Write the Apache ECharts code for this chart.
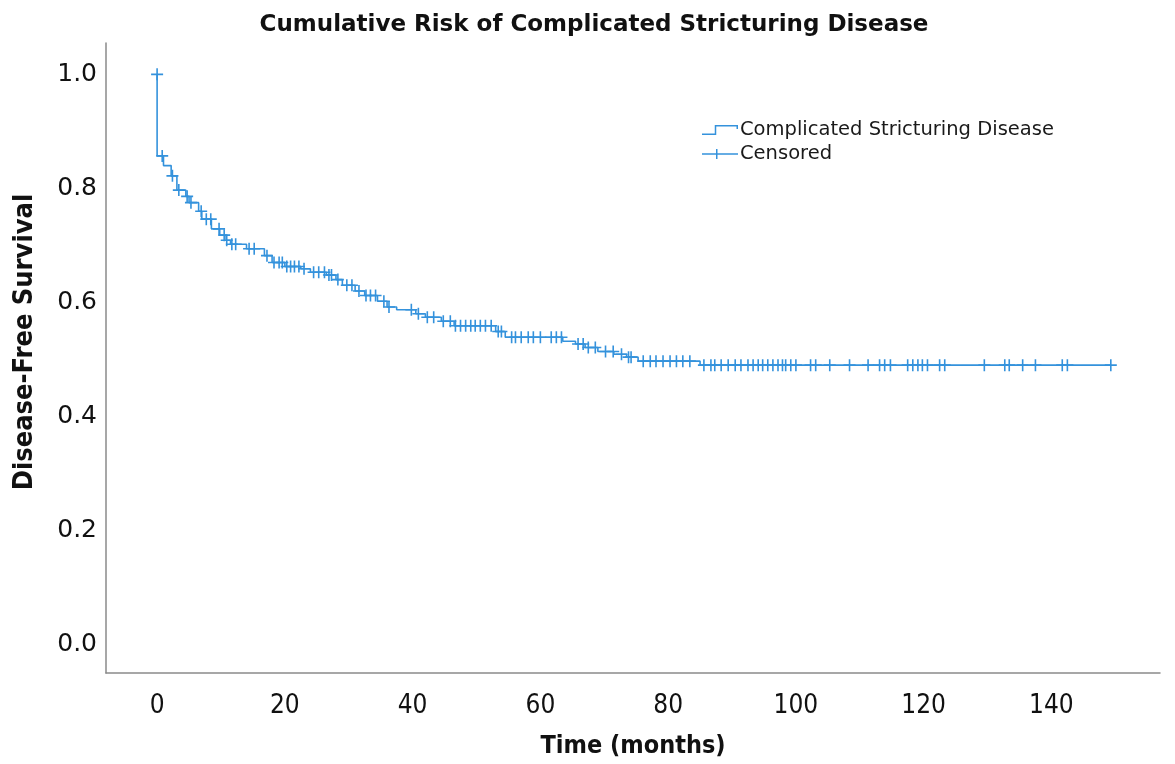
<!DOCTYPE html>
<html>
<head>
<meta charset="utf-8">
<script src="https://cdn.jsdelivr.net/npm/echarts@6/dist/echarts.min.js"></script>
<style>
html,body{margin:0;padding:0;background:#fff;}
#chart{width:1175px;height:764px;}
</style>
</head>
<body>
<div id="chart"></div>
<script>
// Kaplan-Meier event steps: time (months) and survival after the drop
var eventTimes = [0, 1.0, 2.2, 3.1, 4.5, 5.0, 6.5, 7.0, 8.5, 9.8, 10.8, 11.5, 14.0, 16.8, 18.0, 20.0, 22.5, 24.0, 26.5, 28.0, 29.0, 31.0, 32.5, 34.5, 36.0, 37.5, 40.5, 42.0, 44.5, 46.5, 53.0, 54.5, 63.5, 65.5, 67.0, 69.0, 71.5, 73.5, 75.3, 85.0];
var eventSurv  = [0.857, 0.840, 0.822, 0.797, 0.786, 0.775, 0.760, 0.746, 0.729, 0.718, 0.709, 0.702, 0.694, 0.682, 0.670, 0.663, 0.659, 0.653, 0.648, 0.640, 0.630, 0.620, 0.612, 0.602, 0.592, 0.587, 0.580, 0.574, 0.567, 0.559, 0.549, 0.539, 0.532, 0.527, 0.521, 0.514, 0.509, 0.504, 0.497, 0.490];
// Censoring times (months)
var censorTimes = [0, 0.8, 2.4, 3.4, 4.7, 5.3, 6.9, 7.7, 8.4, 9.7, 10.5, 10.9, 11.7, 12.3, 14.4, 15.2, 17.2, 18.3, 19.1, 19.6, 20.3, 20.9, 21.5, 22.2, 23.0, 24.5, 25.3, 26.2, 26.9, 27.3, 28.3, 29.7, 30.5, 31.6, 32.7, 33.4, 34.2, 35.5, 36.3, 39.8, 40.9, 42.3, 43.3, 44.8, 45.9, 46.7, 47.5, 48.3, 49.1, 49.8, 50.6, 51.4, 52.3, 53.4, 53.9, 55.5, 56.1, 57.0, 58.1, 58.9, 60.0, 61.7, 62.5, 63.3, 65.9, 66.7, 67.5, 68.6, 70.2, 71.4, 72.7, 73.8, 74.2, 76.1, 77.2, 78.1, 79.2, 80.3, 81.3, 82.3, 83.4, 85.6, 86.7, 87.3, 88.3, 89.4, 90.5, 91.4, 92.5, 93.3, 94.1, 94.8, 95.6, 96.4, 97.2, 97.9, 98.4, 99.2, 100.0, 102.3, 103.1, 105.3, 108.4, 111.3, 113.1, 113.9, 114.8, 117.5, 118.3, 119.1, 119.8, 120.6, 122.5, 123.3, 129.5, 132.7, 133.4, 135.5, 137.5, 141.7, 142.5, 149.3];
var yTickValues = [0.0, 0.2, 0.4, 0.6, 0.8, 1.0];
var xTickValues = [0, 20, 40, 60, 80, 100, 120, 140];

var titleText = 'Cumulative Risk of Complicated Stricturing Disease';
var xName = 'Time (months)';
var yName = 'Disease-Free Survival';
var seriesName = 'Complicated Stricturing Disease';
var censorName = 'Censored';

var blue = '#3492dc';

function survAt(t) {
  var s = 1.0;
  for (var i = 0; i < eventTimes.length; i++) {
    if (eventTimes[i] < t) s = eventSurv[i];
  }
  return s;
}

var lineData = [[0, 1.0]];
for (var i = 0; i < eventTimes.length; i++) lineData.push([eventTimes[i], eventSurv[i]]);
var lastT = Math.max.apply(null, censorTimes);
lineData.push([lastT, survAt(lastT + 1e-9)]);

var censorData = censorTimes.map(function (t) { return [t, survAt(t)]; });

function isTick(v, list) {
  for (var i = 0; i < list.length; i++) if (Math.abs(v - list[i]) < 1e-6) return true;
  return false;
}

var stepIcon = 'path://M0,8.5h14.25v1.5h-14.25zM12.75,0h1.5v10h-1.5zM12.75,0h23.25v1.5h-23.25zM34.5,0h1.5v4h-1.5z';
var censorIcon = 'path://M0,4.25h36v1.5h-36zM14,0h1.5v10h-1.5z';
var plusSymbol = 'path://M0,5.2h12v1.6h-12zM5.2,0h1.6v12h-1.6z';

var chart = echarts.init(document.getElementById('chart'), null, {renderer: 'canvas'});
chart.setOption({
  backgroundColor: '#ffffff',
  animation: false,
  title: {
    text: titleText,
    left: 589,
    textAlign: 'center',
    top: 9,
    textStyle: {fontFamily: 'DejaVu Sans', fontWeight: 'bold', fontSize: 23, color: '#111'}
  },
  legend: {
    orient: 'vertical',
    left: 697,
    top: 113,
    itemWidth: 36,
    itemHeight: 10,
    itemGap: 0,
    itemStyle: {borderWidth: 0},
    textStyle: {fontFamily: 'DejaVu Sans', fontSize: 19.5, color: '#1a1a1a', lineHeight: 24, padding: [0, 0, 0, -3]},
    data: [
      {name: seriesName, icon: stepIcon},
      {name: censorName, icon: censorIcon}
    ]
  },
  grid: {left: 106, right: 15, top: 43, bottom: 91, containLabel: false, outerBoundsMode: 'none'},
  xAxis: {
    type: 'value',
    min: -8,
    max: 157,
    interval: 4,
    name: xName,
    nameLocation: 'middle',
    nameGap: 61,
    nameTextStyle: {fontFamily: 'DejaVu Sans Condensed', fontWeight: 'bold', fontSize: 25, color: '#111'},
    axisLine: {show: true, onZero: false, lineStyle: {color: '#8a8a8a', width: 1.5}},
    axisTick: {show: false},
    splitLine: {show: false},
    axisLabel: {
      margin: 20,
      fontFamily: 'DejaVu Sans Condensed',
      fontSize: 26,
      color: '#111',
      formatter: function (v) { return isTick(v, xTickValues) ? String(Math.round(v)) : ''; }
    }
  },
  yAxis: {
    type: 'value',
    min: -0.05,
    max: 1.055,
    interval: 0.05,
    name: yName,
    nameLocation: 'middle',
    nameGap: 68,
    nameTextStyle: {fontFamily: 'DejaVu Sans Condensed', fontWeight: 'bold', fontSize: 27, color: '#111', padding: [0, 0, 0, 32]},
    axisLine: {show: true, onZero: false, lineStyle: {color: '#8a8a8a', width: 1.5}},
    axisTick: {show: false},
    splitLine: {show: false},
    axisLabel: {
      margin: 9,
      fontFamily: 'DejaVu Sans',
      fontSize: 25,
      color: '#111',
      formatter: function (v) { return isTick(v, yTickValues) ? v.toFixed(1) : ''; }
    }
  },
  series: [
    {
      name: seriesName,
      type: 'line',
      step: 'end',
      data: lineData,
      showSymbol: false,
      symbol: 'none',
      color: blue,
      itemStyle: {color: blue},
      lineStyle: {color: blue, width: 1.6},
      z: 2
    },
    {
      name: censorName,
      type: 'scatter',
      data: censorData,
      symbol: plusSymbol,
      symbolSize: 12,
      color: blue,
      itemStyle: {color: blue, opacity: 1},
      z: 3
    }
  ]
});
</script>
</body>
</html>
